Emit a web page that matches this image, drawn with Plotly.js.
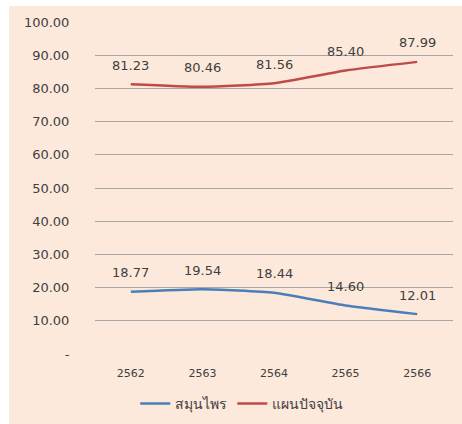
<!DOCTYPE html>
<html>
<head>
<meta charset="utf-8">
<script src="https://cdn.plot.ly/plotly-3.0.1.min.js"></script>
<style>
html,body{margin:0;padding:0;background:#ffffff;width:462px;height:424px;overflow:hidden;}
#chart{position:absolute;left:9px;top:6px;width:453px;height:418px;}
</style>
</head>
<body>
<div id="chart"></div>
<script>
const years = ['2562', '2563', '2564', '2565', '2566'];
const herbal = [18.77, 19.54, 18.44, 14.60, 12.01];
const modern = [81.23, 80.46, 81.56, 85.40, 87.99];
const seriesNames = ['สมุนไพร', 'แผนปัจจุบัน'];
const yTickVals = [0, 10, 20, 30, 40, 50, 60, 70, 80, 90, 100];
const yTickText = ['-', '10.00', '20.00', '30.00', '40.00', '50.00', '60.00', '70.00', '80.00', '90.00', '100.00'];

const blue = '#4a7ebb';
const red = '#be4b48';
const font = '"DejaVu Sans", Verdana, sans-serif';
const textColor = '#404040';

const traces = [
  {x: years, y: herbal, name: seriesNames[0], type: 'scatter', mode: 'lines',
   line: {color: blue, width: 2.5, shape: 'spline', smoothing: 0.5}},
  {x: years, y: modern, name: seriesNames[1], type: 'scatter', mode: 'lines',
   line: {color: red, width: 2.5, shape: 'spline', smoothing: 0.5}}
];

const annotations = [];
const allSeries = [herbal, modern];
for (let s = 0; s < allSeries.length; s++) {
  const arr = allSeries[s];
  for (let i = 0; i < arr.length; i++) {
    annotations.push({x: i, y: arr[i], xref: 'x', yref: 'y', text: arr[i].toFixed(2),
      showarrow: false, yshift: 19, font: {size: 13, color: textColor}});
  }
}

const layout = {
  width: 453, height: 418,
  margin: {l: 86, r: 9, t: 16, b: 70, autoexpand: false},
  paper_bgcolor: '#fde9db',
  plot_bgcolor: '#fde9db',
  font: {family: font, color: textColor},
  showlegend: true,
  legend: {orientation: 'h', x: 0.41, xanchor: 'center', y: -0.15, yanchor: 'middle',
    font: {size: 14, color: textColor}, bgcolor: 'rgba(0,0,0,0)'},
  xaxis: {type: 'category', range: [-0.5, 4.5], showgrid: false, zeroline: false,
    showline: false, ticks: 'outside', ticklen: 9, tickcolor: 'rgba(0,0,0,0)',
    tickfont: {size: 11, color: textColor}},
  yaxis: {range: [0, 100], tickvals: yTickVals, ticktext: yTickText, showgrid: true,
    gridcolor: '#a6a6a6', gridwidth: 1, zeroline: false, showline: false,
    ticks: 'outside', ticklen: 22, tickcolor: 'rgba(0,0,0,0)',
    tickfont: {size: 13, color: textColor}},
  annotations: annotations
};

Plotly.newPlot('chart', traces, layout, {displayModeBar: false});
</script>
</body>
</html>
